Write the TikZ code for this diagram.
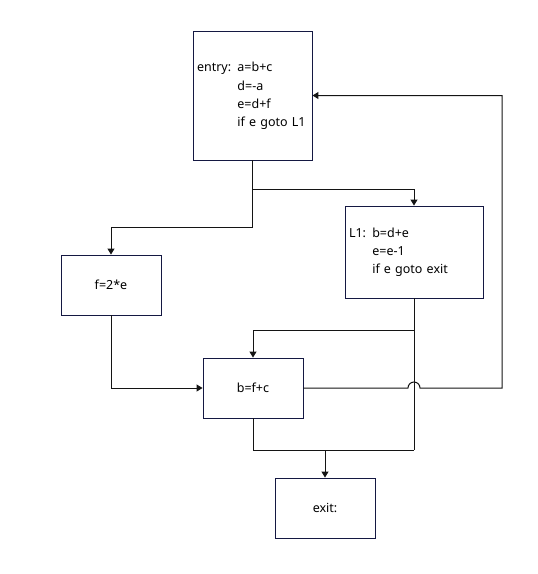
\documentclass[tikz,border=0pt]{standalone}
\usepackage{fontspec}
\setmainfont{Noto Sans}
\usetikzlibrary{arrows.meta}
\definecolor{boxline}{RGB}{20,24,66}
\definecolor{wire}{RGB}{20,20,20}

\begin{document}
\begin{tikzpicture}[x=1pt,y=-1pt,
  blk/.style={draw=boxline,line width=0.9pt,minimum width=100pt,minimum height=60pt,
    inner sep=4pt,font=\fontsize{12.5}{18.3}\selectfont},
  ln/.style={draw=wire,line width=1pt},
  arr/.style={ln,-{Triangle[width=7pt,length=6pt]}}]
\useasboundingbox (0,0) rectangle (538,574);
\node[blk,minimum width=119pt,minimum height=129pt,text width=111pt,align=left] (entry) at (252.5,95.5)
  {\raisebox{-2pt}{\begin{tabular}{@{}l@{ }l@{}}entry: & a=b+c\\ & d=-a\\ & e=d+f\\ & if e goto L1\end{tabular}}};
\node[blk,minimum width=138pt,minimum height=92pt,text width=130pt,align=left] (L1) at (414,252)
  {\raisebox{-2pt}{\begin{tabular}{@{}l@{ }l@{}}L1: & b=d+e\\ & e=e-1\\ & if e goto exit\end{tabular}}};
\node[blk] (f) at (111,285) {f=2*e};
\node[blk] (b) at (253,388) {b=f+c};
\node[blk] (exit) at (325,508) {exit:};
\coordinate (split) at (252.5,189);
\coordinate (fork) at (252.5,227);
\coordinate (merge) at (414,330);
\coordinate (join) at (414,450);
\coordinate (back) at (502,388);
\draw[arr] (entry.south) -- (split) -| (L1.north);
\draw[arr] (split) -- (fork) -| (f.north);
\draw[arr] (f.south) |- (b.west);
\draw[arr] (merge) -| (b.north);
\draw[ln] (L1.south) -- (join);
\draw[ln] (b.south) |- (join);
\draw[arr] (exit.north |- join) -- (exit.north);
\draw[arr] (b.east) -- ([xshift=-6pt]merge |- b.east) arc[start angle=180,end angle=0,radius=6pt]
  -- (back) |- (entry.east);
\end{tikzpicture}
\end{document}
